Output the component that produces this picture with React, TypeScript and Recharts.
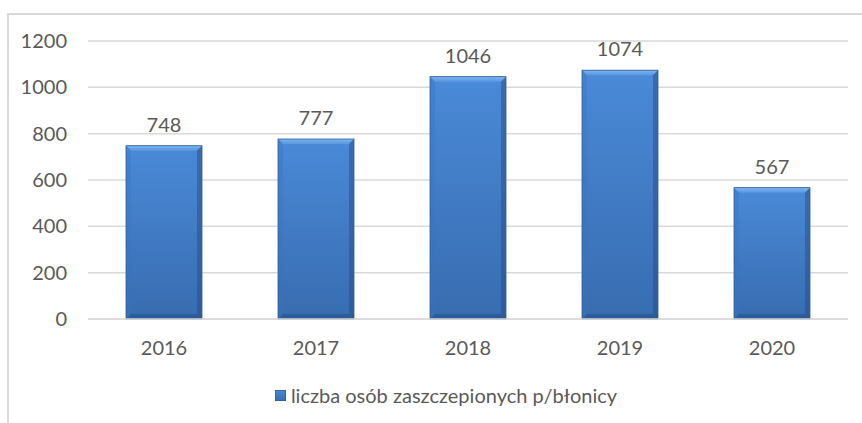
import React from "react"
import { Bar, BarChart, CartesianGrid, LabelList, Legend, XAxis, YAxis } from "recharts"

const years = ["2016", "2017", "2018", "2019", "2020"]
const vaccinated = [748, 777, 1046, 1074, 567]
const yTicks = [0, 200, 400, 600, 800, 1000, 1200]
const seriesName = "liczba osób zaszczepionych p/błonicy"

const data = years.map((year, i) => ({ year, value: vaccinated[i] }))

const FONT = "Lato, Carlito, Calibri, 'Noto Sans', sans-serif"
const GRAY = "#595959"

// bevelled bar like the Excel 3D-ish preset
function BevelBar(props: any) {
  const { x, y, width, height } = props
  if (!height || height <= 0) return null
  const b = 5
  return (
    <g>
      <rect x={x} y={y} width={width} height={height} fill="url(#barGrad)" />
      {/* top bevel */}
      <polygon
        points={`${x},${y} ${x + width},${y} ${x + width - b},${y + b} ${x + b},${y + b}`}
        fill="url(#topGrad)"
      />
      {/* left bevel */}
      <polygon
        points={`${x},${y} ${x + b},${y + b} ${x + b},${y + height - b} ${x},${y + height}`}
        fill="#3a73bd"
        opacity={0.35}
      />
      {/* right bevel */}
      <polygon
        points={`${x + width},${y} ${x + width - b},${y + b} ${x + width - b},${y + height - b} ${x + width},${y + height}`}
        fill="#234a7d"
        opacity={0.45}
      />
      {/* bottom bevel */}
      <polygon
        points={`${x},${y + height} ${x + b},${y + height - b} ${x + width - b},${y + height - b} ${x + width},${y + height}`}
        fill="#22487a"
        opacity={0.45}
      />
      <rect x={x} y={y} width={width} height={height} fill="none" stroke="#2f5d99" strokeWidth={0.8} />
    </g>
  )
}

function LegendContent() {
  return (
    <div
      style={{
        display: "flex",
        justifyContent: "center",
        alignItems: "center",
        fontFamily: FONT,
        fontSize: 20,
        color: GRAY,
        paddingLeft: 30,
      }}
    >
      <svg width={11} height={11} style={{ marginRight: 5 }}>
        <rect x={0} y={0} width={11} height={11} fill="url(#barGrad)" stroke="#2a5185" strokeWidth={1} />
      </svg>
      <span>{seriesName}</span>
    </div>
  )
}

export default function App() {
  return (
    <div style={{ position: "absolute", left: 0, top: 0, width: 862, height: 423, background: "#fff", overflow: "hidden" }}>
      <div
        style={{
          position: "absolute",
          left: 7,
          top: 13,
          width: 900,
          height: 500,
          border: "2px solid #d9d9d9",
          boxSizing: "border-box",
        }}
      />
      <div style={{ position: "absolute", left: 0, top: 0 }}>
        <BarChart
          width={862}
          height={423}
          data={data}
          margin={{ top: 41, right: 14, bottom: 50, left: 8 }}
          barCategoryGap="25%"
        >
          <defs>
            <linearGradient id="barGrad" x1="0" y1="0" x2="0" y2="1">
              <stop offset="0%" stopColor="#4a8ad8" />
              <stop offset="100%" stopColor="#386cb0" />
            </linearGradient>
            <linearGradient id="topGrad" x1="0" y1="0" x2="0" y2="1">
              <stop offset="0%" stopColor="#7db4f0" />
              <stop offset="100%" stopColor="#5a97e0" />
            </linearGradient>
          </defs>
          <CartesianGrid vertical={false} stroke="#d9d9d9" strokeWidth={1.5} />
          <XAxis
            dataKey="year"
            axisLine={{ stroke: "#d9d9d9", strokeWidth: 1.5 }}
            tickLine={false}
            tickMargin={16}
            height={30}
            tick={{ fill: GRAY, fontSize: 20, fontFamily: FONT }}
          />
          <YAxis
            domain={[0, 1200]}
            ticks={yTicks}
            axisLine={false}
            tickLine={false}
            width={80}
            tickMargin={15}
            tick={{ fill: GRAY, fontSize: 20, fontFamily: FONT }}
          />
          <Legend
            verticalAlign="bottom"
            content={<LegendContent />}
            wrapperStyle={{ top: 383, left: 0, width: 862, bottom: "auto" }}
          />
          <Bar dataKey="value" name={seriesName} shape={<BevelBar />} isAnimationActive={false}>
            <LabelList
              dataKey="value"
              position="top"
              offset={14}
              fill={GRAY}
              fontSize={20}
              fontFamily={FONT}
            />
          </Bar>
        </BarChart>
      </div>
    </div>
  )
}
